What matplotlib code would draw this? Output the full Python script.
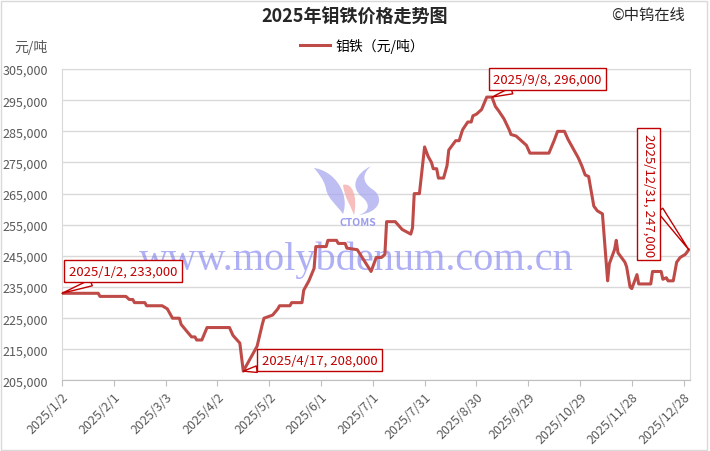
import matplotlib
matplotlib.use("Agg")
import matplotlib.pyplot as plt
from matplotlib.patches import Rectangle, PathPatch
from matplotlib.path import Path
import pandas as pd

plt.rcParams["font.family"] = ["Noto Sans CJK SC", "DejaVu Sans"]

# price vertices
dates = [
    "2025-01-02", "2025-01-23", "2025-01-24", "2025-02-08", "2025-02-10", "2025-02-12",
    "2025-02-13", "2025-02-19", "2025-02-20", "2025-03-01", "2025-03-04", "2025-03-07",
    "2025-03-11", "2025-03-12", "2025-03-18", "2025-03-20", "2025-03-21", "2025-03-24",
    "2025-03-27", "2025-04-09", "2025-04-11", "2025-04-15", "2025-04-17", "2025-04-21",
    "2025-04-25", "2025-04-28", "2025-04-29", "2025-05-04", "2025-05-07", "2025-05-08",
    "2025-05-14", "2025-05-15", "2025-05-21", "2025-05-22", "2025-05-25", "2025-05-28",
    "2025-05-29", "2025-06-04", "2025-06-05", "2025-06-10", "2025-06-11", "2025-06-15",
    "2025-06-16", "2025-06-22", "2025-06-30", "2025-07-02", "2025-07-03", "2025-07-06",
    "2025-07-08", "2025-07-09", "2025-07-14", "2025-07-18", "2025-07-23", "2025-07-24",
    "2025-07-25", "2025-07-28", "2025-07-31", "2025-08-02", "2025-08-04", "2025-08-05",
    "2025-08-07", "2025-08-08", "2025-08-11", "2025-08-13", "2025-08-14", "2025-08-16",
    "2025-08-18", "2025-08-20", "2025-08-22", "2025-08-25", "2025-08-27", "2025-08-28",
    "2025-08-30", "2025-09-02", "2025-09-05", "2025-09-08", "2025-09-10", "2025-09-12",
    "2025-09-15", "2025-09-18", "2025-09-19", "2025-09-22", "2025-09-24", "2025-09-26",
    "2025-09-28", "2025-09-30", "2025-10-11", "2025-10-14", "2025-10-16", "2025-10-20",
    "2025-10-22", "2025-10-24", "2025-10-28", "2025-10-30", "2025-11-01", "2025-11-03",
    "2025-11-06", "2025-11-08", "2025-11-11", "2025-11-14", "2025-11-15", "2025-11-18",
    "2025-11-19", "2025-11-20", "2025-11-24", "2025-11-25", "2025-11-27", "2025-11-28",
    "2025-12-01", "2025-12-02", "2025-12-09", "2025-12-10", "2025-12-15", "2025-12-16",
    "2025-12-18", "2025-12-19", "2025-12-22", "2025-12-24", "2025-12-26", "2025-12-29",
    "2025-12-31",
]
prices = [
    233000, 233000, 232000, 232000, 231000, 231000,
    230000, 230000, 229000, 229000, 228000, 225000,
    225000, 223000, 219000, 219000, 218000, 218000,
    222000, 222000, 219500, 217000, 208000, 212000,
    216000, 223000, 225000, 226000, 228000, 229000,
    229000, 230000, 230000, 234000, 237000, 241000,
    248000, 248000, 250000, 250000, 249000, 249000,
    247500, 247000, 240000, 243000, 244500, 244500,
    245500, 256000, 256000, 253500, 252000, 254000,
    265000, 265000, 280000, 277000, 275000, 273000,
    273000, 270000, 270000, 274000, 279000, 280500,
    282000, 282000, 285500, 288000, 288000, 290000,
    290500, 292000, 296000, 296000, 293000, 291500,
    289000, 285500, 284000, 283500, 282500, 281500,
    280500, 278000, 278000, 282000, 285000, 285000,
    282500, 280500, 276500, 274000, 271000, 270500,
    261000, 259500, 258500, 237000, 242500, 247000,
    250000, 246000, 243000, 241500, 235000, 234500,
    239000, 236000, 236000, 240000, 240000, 237500,
    238000, 237000, 237000, 243000, 244500, 245500,
    247000,
]

callouts = ["2025-01-02", "2025-04-17", "2025-09-08", "2025-12-31"]
y_ticks = list(range(205000, 305001, 10000))

line_color = "#BE4B48"
box_color = "#C00000"
gray = "#595959"

x = pd.to_datetime(dates)
tick_dates = pd.date_range("2025-01-02", periods=13, freq="30D")

W, H = 710, 452
fig = plt.figure(figsize=(W / 100, H / 100), dpi=100)
ax = fig.add_axes([0.0873, 0.156, 0.885, 0.689])


def logo_shape(pts, color):
    # pts given in pixel coordinates from the top-left corner of the figure
    verts = [(px / W, 1 - py / H) for px, py in pts]
    codes = [Path.MOVETO] + [Path.CURVE4] * (len(verts) - 2) + [Path.CLOSEPOLY]
    fig.patches.append(PathPatch(Path(verts, codes), transform=fig.transFigure,
                                 fc=color, ec="none", alpha=0.75, zorder=1))


# faint CTOMS logo + site watermark
logo_shape([(314, 169), (335, 172), (350, 195), (343, 215), (336, 205), (328, 200),
            (326, 190), (324, 180), (318, 174), (314, 169), (314, 169)], "#A8A8F0")
logo_shape([(343, 186), (352, 183), (358, 197), (354, 216), (350, 205), (345, 200),
            (343, 186), (343, 186)], "#F5A8A8")
logo_shape([(371, 167), (355, 175), (350, 188), (362, 198), (372, 206), (368, 214),
            (358, 216), (380, 214), (385, 198), (372, 190), (362, 183), (362, 175),
            (371, 167), (371, 167)], "#A8A8F0")
fig.text(358 / W, 1 - 223 / H, "CTOMS", ha="center", va="center", fontsize=7.5,
         fontweight="bold", style="italic", color="#9A9AF0")
ax.text(0.468, 0.39, "www.molybdenum.com.cn", transform=ax.transAxes, ha="center",
        va="center", family="Liberation Serif", fontsize=29, color="#7B7BF0", alpha=0.6,
        zorder=1)

ax.plot(x, prices, color=line_color, lw=2.2, label="钼铁（元/吨）", zorder=3,
        solid_joinstyle="round")

ax.set_ylim(205000, 305000)
ax.set_yticks(y_ticks)
ax.set_yticklabels([f"{v:,}" for v in y_ticks])
ax.set_xlim(x[0], x[-1] + pd.Timedelta(days=0.9))
ax.set_xticks(tick_dates)
ax.set_xticklabels([f"{d.year}/{d.month}/{d.day}" for d in tick_dates], rotation=45,
                   ha="right", rotation_mode="anchor")
ax.tick_params(axis="x", colors="#BFBFBF", labelcolor=gray, labelsize=9, length=4, pad=3)
ax.tick_params(axis="y", length=0, labelcolor=gray, labelsize=9, pad=10)
ax.grid(axis="y", color="#D9D9D9", lw=1)
ax.set_axisbelow(True)
ax.patch.set_alpha(0)
for sp in ax.spines.values():
    sp.set_color("#D9D9D9")
ax.spines["bottom"].set_color("#BFBFBF")

offsets = [(44, 16), (55, 8), (40, 13), (-29, 40)]
for d, off in zip(callouts, offsets):
    i = dates.index(d)
    label = f"{x[i].year}/{x[i].month}/{x[i].day}, {prices[i]:,}"
    rot = -90 if d == callouts[-1] else 0
    ax.annotate(label, xy=(x[i], prices[i]), xytext=off, textcoords="offset points",
                ha="center", va="center", rotation=rot, fontsize=9.5, color=box_color,
                bbox=dict(boxstyle="square,pad=0.35", fc="white", ec=box_color, lw=1),
                arrowprops=dict(arrowstyle="wedge,tail_width=0.5", fc="white", ec=box_color,
                                lw=1, shrinkA=0, shrinkB=0),
                zorder=5)

fig.text(0.5, 0.962, "2025年钼铁价格走势图", ha="center", va="center", fontsize=13,
         fontweight="bold", color="#262626")
fig.text(0.965, 0.965, "©中钨在线", ha="right", va="center", fontsize=11, color="#262626")
fig.text(0.043, 0.896, "元/吨", ha="center", va="center", fontsize=10, color=gray)
fig.legend(loc="center", bbox_to_anchor=(0.51, 0.898), frameon=False, fontsize=10,
           handlelength=2.2, handletextpad=0.4)

fig.patches.append(Rectangle((0.002, 0.003), 0.994, 0.993, transform=fig.transFigure,
                             fill=False, ec="#D9D9D9", lw=1))

fig.savefig("out.png", dpi=100)
